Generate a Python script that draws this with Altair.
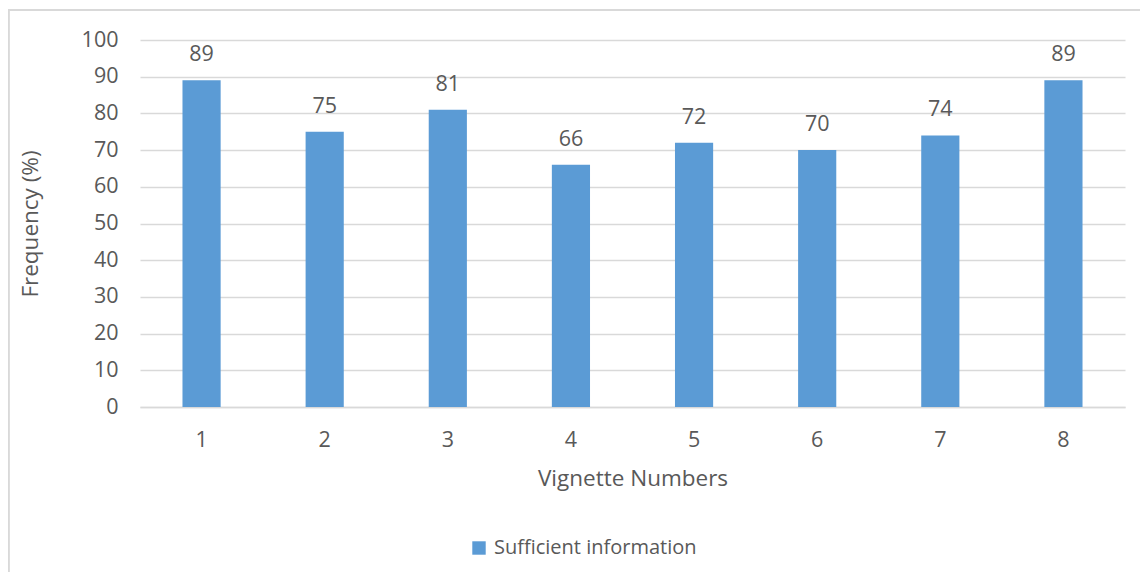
import altair as alt
import pandas as pd

vignettes = ["1", "2", "3", "4", "5", "6", "7", "8"]
values = [89, 75, 81, 66, 72, 70, 74, 89]
series_name = "Sufficient information"
y_ticks = [0, 10, 20, 30, 40, 50, 60, 70, 80, 90, 100]

df = pd.DataFrame({"Vignette": vignettes, "Value": values, "Series": [series_name] * len(values)})

FONT = "Open Sans"
TXT = "#595959"
GRID = "#d9d9d9"
BAR = "#5b9bd5"
LBL = 21.5
TTL = 22.5

x_enc = alt.X(
    "Vignette:N",
    sort=vignettes,
    title="Vignette Numbers",
    scale=alt.Scale(paddingInner=0.69, paddingOuter=0.345),
    axis=alt.Axis(
        labelAngle=0, labelFont=FONT, labelFontSize=LBL, labelColor=TXT,
        labelPadding=22, ticks=False, domainColor=GRID, domainWidth=1.5,
        titleFont=FONT, titleFontSize=TTL, titleFontWeight="normal",
        titleColor=TXT, titlePadding=17, grid=False,
    ),
)
y_enc = alt.Y(
    "Value:Q",
    title="Frequency (%)",
    scale=alt.Scale(domain=[0, 100], nice=False),
    axis=alt.Axis(
        values=y_ticks, labelOverlap=False, labelFont=FONT, labelFontSize=LBL,
        labelColor=TXT, labelPadding=22, ticks=False, domain=False,
        gridColor=GRID, gridWidth=1.5, titleFont=FONT, titleFontSize=TTL,
        titleFontWeight="normal", titleColor=TXT, titlePadding=39,
    ),
)

border = alt.Chart(df).mark_rect(
    fill=None, stroke=GRID, strokeWidth=1.5
).encode(
    x=alt.value(-131.5), x2=alt.value(1012), y=alt.value(-30), y2=alt.value(548)
)

bars = alt.Chart(df).mark_bar(color=BAR).encode(
    x=x_enc,
    y=y_enc,
    color=alt.Color(
        "Series:N",
        scale=alt.Scale(range=[BAR]),
        legend=alt.Legend(
            title=None, orient="none", legendX=329, legendY=498,
            symbolType="square", symbolSize=180, symbolStrokeWidth=0,
            labelFont=FONT, labelFontSize=20, labelColor=TXT,
            labelOffset=5, labelLimit=0,
        ),
    ),
)

labels = alt.Chart(df).mark_text(
    font=FONT, fontSize=LBL, color=TXT, baseline="middle", dy=-25
).encode(
    x=alt.X("Vignette:N", sort=vignettes),
    y=y_enc,
    text="Value:Q",
)

chart = alt.layer(border, bars, labels).properties(
    width=985,
    height=367,
    padding={"left": 132, "top": 32, "right": 15, "bottom": 165},
    autosize=alt.AutoSizeParams(type="none"),
    background="white",
).configure_view(stroke=None)

chart.save("out.html", embed_options={"renderer": "svg", "actions": False})
